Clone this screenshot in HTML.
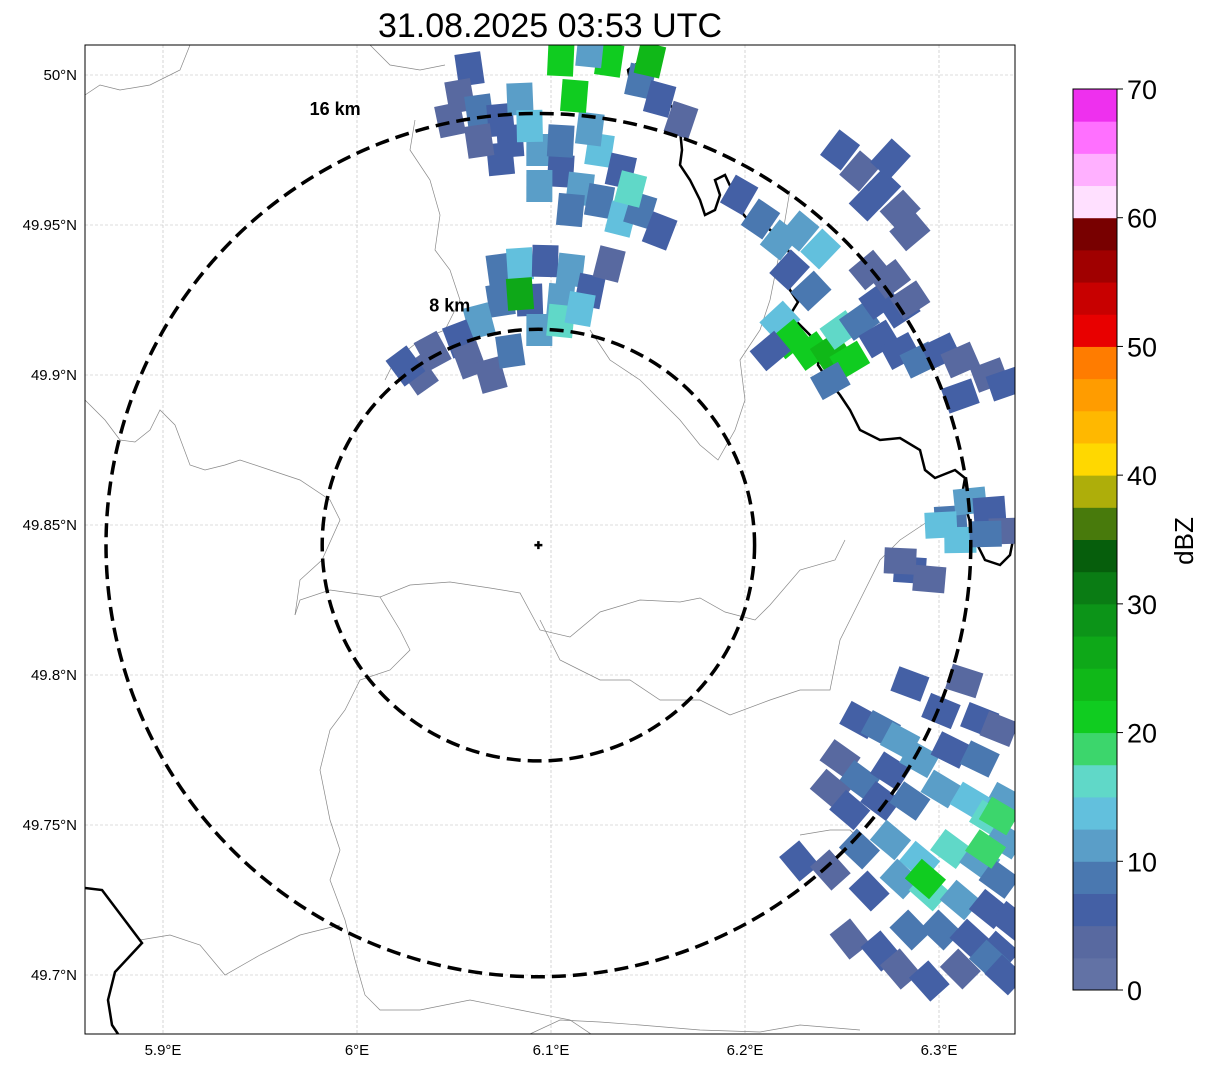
<!DOCTYPE html>
<html><head><meta charset="utf-8"><style>
body{margin:0;background:#fff;width:1207px;height:1069px;overflow:hidden;font-family:"Liberation Sans","DejaVu Sans",sans-serif}
svg{position:absolute;left:0;top:0}
</style></head><body>
<svg id="chart" width="1207" height="1069" xmlns="http://www.w3.org/2000/svg">
<defs><clipPath id="mapclip"><rect x="85" y="45" width="930" height="989"/></clipPath></defs>
<text x="550" y="37" font-size="34" text-anchor="middle" fill="#000">31.08.2025 03:53 UTC</text>
<g id="grid"></g>
<g id="borders" clip-path="url(#mapclip)" fill="none">
<path stroke="#888" stroke-width="0.7" d="M295,615 L300,600 L330,590 L380,597 L410,585 L450,582 L490,588 L520,593 L540,630 L570,637 L600,612 L640,600 L680,602 L700,598 L725,612 L755,620 L770,605 L800,570 L835,560 L845,540"/>
<path stroke="#888" stroke-width="0.7" d="M85,400 L105,420 L120,440 L135,442 L150,430 L160,410 L175,425 L190,465 L205,470 L225,465 L240,460 L270,470 L300,480 L330,500 L340,520 L322,560 L300,580 L295,615"/>
<path stroke="#888" stroke-width="0.7" d="M85,95 L100,85 L120,90 L150,85 L180,70 L190,45"/>
<path stroke="#888" stroke-width="0.7" d="M370,45 L390,65 L420,70 L445,65"/>
<path stroke="#888" stroke-width="0.7" d="M415,120 L410,150 L430,180 L440,215 L435,250 L450,270 L460,300 L445,330 L420,340 L395,360 L385,380"/>
<path stroke="#888" stroke-width="0.7" d="M790,190 L780,250 L770,300 L760,330 L740,360 L745,400 L735,430 L718,460 L700,445 L680,420 L660,400 L640,380 L610,360 L590,330"/>
<path stroke="#888" stroke-width="0.7" d="M540,620 L560,660 L580,670 L600,680 L630,680 L660,700 L700,700 L730,715 L770,700 L800,690 L830,690 L840,640 L860,600 L880,560 L900,540 L930,520"/>
<path stroke="#888" stroke-width="0.7" d="M380,597 L400,630 L410,650 L390,670 L360,680 L345,710 L330,730 L320,770 L330,820 L340,850 L330,880 L345,920 L355,960 L365,995 L380,1010 L420,1010 L470,1000 L520,1010 L570,1020 L600,1040"/>
<path stroke="#888" stroke-width="0.7" d="M140,940 L170,935 L200,945 L225,975 L260,955 L300,935 L320,930 L340,925"/>
<path stroke="#888" stroke-width="0.7" d="M800,835 L830,830 L850,830 L860,840 M530,1034 L560,1020 L600,1022 L640,1025 L700,1030 L760,1032 L800,1025 L860,1030"/>
<path stroke="#000" stroke-width="2.5" d="M645,45 L642,60 L628,70 L630,80 L650,85 L665,100 L680,115 L690,120 L680,130 L682,150 L680,165 L690,180 L700,200 L705,215 L715,210 L720,195 L715,180 L725,175 L732,190 L740,210 L748,220 L762,218 L770,230 L782,235 L790,255 L782,268 L790,290 L798,302 L790,315 L800,325 L810,335 L820,345 L818,365 L828,380 L840,395 L850,410 L860,430 L880,440 L900,438 L920,450 L925,470 L935,478 L955,470 L965,478 L962,495 L968,515 L975,540 L985,560 L1000,565 L1010,555 L1015,530"/>
<path stroke="#000" stroke-width="2.5" d="M85,888 L102,890 L142,943 L115,972 L108,1000 L112,1025 L118,1034"/>
</g>
<g id="cells" clip-path="url(#mapclip)"></g>
<g id="rings"></g>
<rect x="85" y="45" width="930" height="989" fill="none" stroke="#000" stroke-width="1"/>
<g id="axes"></g>
<g id="cbar"></g>
<text transform="translate(1193,541) rotate(-90)" font-size="26" text-anchor="middle" fill="#000">dBZ</text>
</svg>
<script>
const NS='http://www.w3.org/2000/svg';
const lonTicks=[5.9,6.0,6.1,6.2,6.3];
const lonTickLabels=['5.9°E','6°E','6.1°E','6.2°E','6.3°E'];
const latTicks=[50.0,49.95,49.9,49.85,49.8,49.75,49.7];
const latTickLabels=['50°N','49.95°N','49.9°N','49.85°N','49.8°N','49.75°N','49.7°N'];
const radarLon=6.0935, radarLat=49.8433;
const ringKm=[8,16];
const ringLabels=['8 km','16 km'];
const cbarTicks=[0,10,20,30,40,50,60,70];
const cbarColors=['#6272a5','#5869a0','#4460a5','#4a78b0','#5a9ec8','#62c0dd','#60d8c8','#3cd66c','#10cc20','#10b818','#0ea818','#0c9418','#0a7c14','#065e0c','#487a0c','#aeae0a','#ffd800','#ffb800','#ff9c00','#ff7c00','#e80000','#c80000','#a00000','#780000','#ffe0ff','#ffb0ff','#ff70ff','#ee30ee'];
const cellLon=[6.058,6.053,6.063,6.074,6.084,6.079,6.094,6.105,6.115,6.125,6.136,6.146,6.156,6.125,6.136,6.120,6.105,6.112,6.130,6.146,6.156,6.167,6.151,6.120,6.141,6.110,6.094,6.074,6.063,6.048,6.089,6.105,
6.074,6.084,6.097,6.110,6.120,6.105,6.089,6.074,6.063,6.053,6.058,6.069,6.079,6.094,6.105,6.115,6.130,6.032,6.025,6.039,6.084,
6.197,6.208,6.218,6.228,6.239,6.223,6.234,6.218,6.223,6.234,6.244,6.254,6.249,6.259,6.269,6.280,6.290,6.301,6.311,6.326,6.334,6.311,6.269,6.280,6.264,6.275,6.285,6.249,6.259,6.270,6.280,6.285,6.275,6.264,6.244,6.213,
6.306,6.316,6.326,6.334,6.311,6.324,6.301,6.285,6.295,6.280,
6.285,6.313,6.259,6.270,6.280,6.301,6.321,6.331,6.249,6.259,6.275,6.290,6.306,6.321,6.334,6.244,6.254,6.270,6.285,6.301,6.316,6.326,6.334,6.228,6.244,6.259,6.275,6.290,6.306,6.321,6.331,6.264,6.280,6.295,6.311,6.326,6.337,6.254,6.270,6.285,6.301,6.316,6.331,6.280,6.295,6.311,6.326,6.334,6.331,6.324,6.293];
const cellLat=[50.002,49.993,49.988,49.985,49.992,49.978,49.975,49.968,49.962,49.958,49.952,49.955,49.948,49.975,49.968,49.982,50.005,49.993,50.005,49.998,49.992,49.985,50.005,50.008,49.962,49.955,49.963,49.972,49.978,49.985,49.983,49.978,
49.935,49.937,49.938,49.935,49.928,49.925,49.925,49.925,49.918,49.912,49.905,49.900,49.908,49.915,49.918,49.922,49.937,49.900,49.903,49.908,49.927,
49.960,49.952,49.945,49.948,49.942,49.935,49.928,49.918,49.912,49.908,49.908,49.905,49.915,49.918,49.912,49.908,49.905,49.908,49.905,49.900,49.897,49.893,49.925,49.922,49.935,49.932,49.925,49.975,49.968,49.962,49.955,49.948,49.972,49.958,49.898,49.908,
49.852,49.858,49.855,49.848,49.845,49.847,49.850,49.835,49.832,49.838,
49.797,49.798,49.785,49.782,49.778,49.788,49.785,49.782,49.772,49.765,49.768,49.772,49.775,49.772,49.758,49.762,49.755,49.758,49.758,49.762,49.758,49.752,49.745,49.738,49.735,49.742,49.745,49.738,49.742,49.738,49.732,49.728,49.732,49.728,49.725,49.722,49.718,49.712,49.708,49.715,49.715,49.712,49.708,49.702,49.698,49.702,49.705,49.700,49.753,49.742,49.732];
const cellDbz=[5,3,8,6,10,7,12,6,11,9,14,8,5,13,7,10,20,21,22,9,6,4,23,12,15,8,11,6,4,3,13,9,
8,14,6,10,5,12,7,9,11,6,4,3,8,12,15,13,4,3,5,3,27,
6,8,12,10,14,5,9,13,21,22,23,21,16,9,7,6,8,5,4,3,6,7,5,6,4,3,3,5,4,6,3,4,5,6,9,5,
9,12,6,4,13,8,14,5,4,3,
5,4,6,8,10,7,5,3,4,9,6,12,7,9,11,4,6,5,8,12,14,16,10,6,4,9,12,13,15,11,8,7,12,16,10,7,6,4,5,8,9,7,6,3,5,4,8,5,19,19,21];
const ringLabelDx=[-0.41,-0.47];
const ringLabelDy=[-1.11,-1.01];
function px(lon){return 357+(lon-6.0)*1940;}
function py(lat){return 75+(50.0-lat)*3000;}
function colorFor(v){if(v===undefined||isNaN(v))v=0;let i=Math.floor(v/2.5);if(i<0)i=0;if(i>=cbarColors.length)i=cbarColors.length-1;return cbarColors[i];}
function mk(tag,attrs,parent){const e=document.createElementNS(NS,tag);for(const k in attrs)e.setAttribute(k,attrs[k]);parent.appendChild(e);return e;}
const grid=document.getElementById('grid');
lonTicks.forEach(function(l){
 const ln=mk('line',{x1:px(l),x2:px(l),y1:45,y2:1034,stroke:'#bbb','stroke-width':0.6,'stroke-dasharray':'3,2'},grid);
 
 
});
latTicks.forEach(function(l){
 const ln=mk('line',{x1:85,x2:1015,y1:py(l),y2:py(l),stroke:'#bbb','stroke-width':0.6,'stroke-dasharray':'3,2'},grid);
 
 
});
const cells=document.getElementById('cells');
const n=Math.min(cellLon.length,cellLat.length);
for(let i=0;i<n;i++){
 const x=px(cellLon[i]),y=py(cellLat[i]);
 const ang=Math.atan2(y-py(radarLat),x-px(radarLon))*180/Math.PI;
 const r=mk('rect',{x:-16,y:-13,width:32,height:26,fill:colorFor(cellDbz[i]),transform:'translate('+x+','+y+') rotate('+ang+')'},cells);
 
 
}
const rings=document.getElementById('rings');
const cx=px(radarLon),cy=py(radarLat);
ringKm.forEach(function(k,i){
 const rx=k/111.32/Math.cos(radarLat*Math.PI/180)*1940;
 const ry=k/111.2*3000;
 const e=mk('ellipse',{cx:cx,cy:cy,rx:rx,ry:ry,fill:'none',stroke:'#000','stroke-width':3.5,'stroke-dasharray':'14,7'},rings);
 
 
 const t=mk('text',{x:cx+rx*ringLabelDx[i],y:cy+ry*ringLabelDy[i]+6,'font-size':18,'font-weight':'bold','text-anchor':'middle',fill:'#000'},rings);
 t.textContent=ringLabels[i];
 
 
});
const mark=mk('path',{d:'M'+(cx-4)+','+cy+' h8 M'+cx+','+(cy-4)+' v8',stroke:'#000','stroke-width':2.5},rings);


const axes=document.getElementById('axes');
lonTicks.forEach(function(l,i){
 const t=mk('text',{x:px(l),y:1055,'font-size':15,'text-anchor':'middle',fill:'#000'},axes);
 t.textContent=lonTickLabels[i];
 
 
});
latTicks.forEach(function(l,i){
 const t=mk('text',{x:77,y:py(l)+5,'font-size':15,'text-anchor':'end',fill:'#000'},axes);
 t.textContent=latTickLabels[i];
 
 
});
const cb=document.getElementById('cbar');
const cbTop=89,cbBot=990,cbX=1073,cbW=44,vmax=70;
function cy2(v){return cbBot-(v/vmax)*(cbBot-cbTop);}
cbarColors.forEach(function(c,i){
 const r=mk('rect',{x:cbX,y:cy2((i+1)*2.5),width:cbW,height:cy2(i*2.5)-cy2((i+1)*2.5)+0.5,fill:c},cb);
 
 
});
const fr=mk('rect',{x:cbX,y:cbTop,width:cbW,height:cbBot-cbTop,fill:'none',stroke:'#000','stroke-width':1},cb);


cbarTicks.forEach(function(v){
 const ln=mk('line',{x1:cbX+cbW,x2:cbX+cbW+6,y1:cy2(v),y2:cy2(v),stroke:'#000','stroke-width':1},cb);
 
 
 const t=mk('text',{x:cbX+cbW+10,y:cy2(v)+10,'font-size':27,fill:'#000'},cb);
 t.textContent=v;
 
 
});
</script>
</body></html>
